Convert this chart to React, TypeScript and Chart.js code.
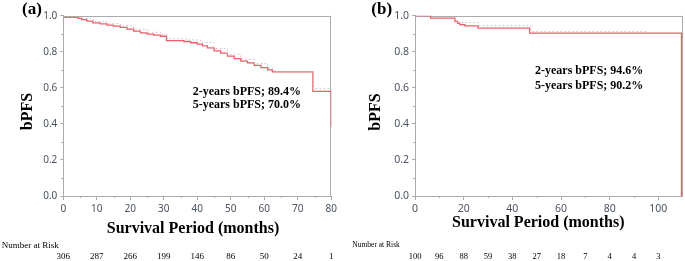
import React, { useEffect, useRef } from 'react';
import { Chart, registerables } from 'chart.js';

Chart.register(...registerables);

// ---------- Panel (a) data ----------
const aTimes = [0, 4.4, 5.5, 7, 8.8, 11, 13, 15, 17, 19, 21, 23, 25, 27, 29, 30.8, 36, 38, 40, 41.5, 43, 45, 47, 49, 51, 53, 55, 57, 59, 61, 62.4, 74.5, 80];
const aSurv = [0.991, 0.985, 0.978, 0.970, 0.960, 0.955, 0.948, 0.942, 0.935, 0.925, 0.915, 0.905, 0.898, 0.892, 0.886, 0.862, 0.857, 0.850, 0.842, 0.833, 0.822, 0.805, 0.792, 0.776, 0.762, 0.748, 0.738, 0.725, 0.712, 0.700, 0.688, 0.580, 0.383];
const aCensorTimes = [0, 5, 9, 13, 17, 21, 25, 29, 31, 37, 41, 45, 49, 53, 57, 61, 63, 74.5, 80];
const aCensorSurv = [0.993, 0.985, 0.968, 0.956, 0.944, 0.925, 0.908, 0.896, 0.872, 0.866, 0.852, 0.818, 0.786, 0.758, 0.735, 0.710, 0.690, 0.595, 0.595];
const aXTicks = [0, 10, 20, 30, 40, 50, 60, 70, 80];
const aXMinor = [5, 15, 25, 35, 45, 55, 65, 75];
const aRiskMonths = [0, 10, 20, 30, 40, 50, 60, 70, 80];
const aRisk = [306, 287, 266, 199, 146, 86, 50, 24, 1];
const aNotes = ['2-years bPFS; 89.4%', '5-years bPFS; 70.0%'];

// ---------- Panel (b) data ----------
const bTimes = [0, 6.4, 16.4, 17.5, 18.4, 20.5, 25.9, 47.1, 109.5];
const bSurv = [1.0, 0.986, 0.968, 0.958, 0.950, 0.944, 0.931, 0.903, 0.0];
const bCensorTimes = [17.5, 26, 47.6, 95];
const bCensorSurv = [0.962, 0.946, 0.912, 0.912];
const bXTicks = [0, 20, 40, 60, 80, 100];
const bXMinor = [10, 30, 50, 70, 90];
const bRiskMonths = [0, 10, 20, 30, 40, 50, 60, 70, 80, 90, 100];
const bRisk = [100, 96, 88, 59, 38, 27, 18, 7, 4, 4, 3];
const bNotes = ['2-years bPFS; 94.6%', '5-years bPFS; 90.2%'];

const yTicks = [0, 0.2, 0.4, 0.6, 0.8, 1.0];
const yMinor = [0.1, 0.3, 0.5, 0.7, 0.9];

const AXIS = '#ababab';
const TICK_TXT = '#4a5261';
const RED = '#ee5d6a';
const GRAY = '#c2c2c2';
const SERIF = '"Liberation Serif", "Times New Roman", serif';
const SANS = '"Noto Sans", "DejaVu Sans", sans-serif';

type PanelCfg = {
  left: number;
  width: number;
  xMax: number;
  yAxisWidth: number;
  padRight: number;
  times: number[];
  surv: number[];
  cTimes: number[];
  cSurv: number[];
  xTicks: number[];
  xMinor: number[];
  riskMonths: number[];
  risk: number[];
  notes: string[];
  label: string;
  labelPos: [number, number];
  yTitlePos: [number, number];
  xTitlePos: [number, number];
  notePos: [number, number, number];
  narPos: [number, number];
  narFont: number;
  riskY: number;
  riskFont: number;
  tickFont: number;
};

const panelA: PanelCfg = {
  left: 0, width: 340, xMax: 80, yAxisWidth: 63.3, padRight: 7.7,
  times: aTimes, surv: aSurv, cTimes: aCensorTimes, cSurv: aCensorSurv,
  xTicks: aXTicks, xMinor: aXMinor, riskMonths: aRiskMonths, risk: aRisk, notes: aNotes,
  label: '(a)', labelPos: [32, 10], yTitlePos: [28.3, 111.5], xTitlePos: [193, 229],
  notePos: [192.7, 91.7, 105], narPos: [1.7, 246], narFont: 9, riskY: 256.5, riskFont: 9, tickFont: 10,
};

const panelB: PanelCfg = {
  left: 340, width: 345, xMax: 110, yAxisWidth: 75, padRight: 2.3,
  times: bTimes, surv: bSurv, cTimes: bCensorTimes, cSurv: bCensorSurv,
  xTicks: bXTicks, xMinor: bXMinor, riskMonths: bRiskMonths, risk: bRisk, notes: bNotes,
  label: '(b)', labelPos: [41.7, 10], yTitlePos: [35.5, 112], xTitlePos: [198.3, 223],
  notePos: [195, 71.3, 85.8], narPos: [12.3, 245.5], narFont: 7.5, riskY: 256.7, riskFont: 8.5, tickFont: 10.5,
};

function KMPanel({ cfg }: { cfg: PanelCfg }) {
  const ref = useRef<HTMLCanvasElement>(null);

  useEffect(() => {
    if (!ref.current) return;

    const decor = {
      id: 'kmDecor',
      beforeDatasetsDraw(chart: any) {
        const { ctx, chartArea: ca } = chart;
        ctx.save();
        ctx.strokeStyle = AXIS;
        ctx.lineWidth = 1;
        ctx.beginPath();
        ctx.moveTo(ca.left, Math.round(ca.top) + 0.5);
        ctx.lineTo(ca.right, Math.round(ca.top) + 0.5);
        ctx.moveTo(Math.round(ca.right) - 0.5, ca.top);
        ctx.lineTo(Math.round(ca.right) - 0.5, ca.bottom);
        ctx.stroke();
        ctx.restore();
      },
      afterDraw(chart: any) {
        const { ctx, chartArea: ca, scales } = chart;
        const xs = scales.x;
        const ys = scales.y;
        ctx.save();
        // minor ticks
        ctx.strokeStyle = AXIS;
        ctx.lineWidth = 1;
        ctx.beginPath();
        yMinor.forEach((v) => {
          const y = Math.round(ys.getPixelForValue(v)) + 0.5;
          ctx.moveTo(ca.left - 2, y);
          ctx.lineTo(ca.left, y);
        });
        cfg.xMinor.forEach((v) => {
          const x = Math.round(xs.getPixelForValue(v)) + 0.5;
          ctx.moveTo(x, ca.bottom);
          ctx.lineTo(x, ca.bottom + 2);
        });
        ctx.stroke();

        ctx.fillStyle = '#000';
        // panel label
        ctx.font = `bold 17px ${SERIF}`;
        ctx.textAlign = 'center';
        ctx.textBaseline = 'middle';
        ctx.fillText(cfg.label, cfg.labelPos[0], cfg.labelPos[1]);

        // y title
        ctx.save();
        ctx.translate(cfg.yTitlePos[0], cfg.yTitlePos[1]);
        ctx.rotate(-Math.PI / 2);
        ctx.font = `bold 16px ${SERIF}`;
        ctx.fillText('bPFS', 0, 0);
        ctx.restore();

        // x title
        ctx.font = `bold 16px ${SERIF}`;
        ctx.fillText('Survival Period (months)', cfg.xTitlePos[0], cfg.xTitlePos[1]);

        // annotations
        ctx.font = `bold 12px ${SERIF}`;
        ctx.textAlign = 'left';
        ctx.fillText(cfg.notes[0], cfg.notePos[0], cfg.notePos[1]);
        ctx.fillText(cfg.notes[1], cfg.notePos[0], cfg.notePos[2]);

        // number at risk
        ctx.font = `${cfg.narFont}px ${SERIF}`;
        ctx.fillText('Number at Risk', cfg.narPos[0], cfg.narPos[1]);
        ctx.font = `${cfg.riskFont}px ${SERIF}`;
        ctx.textAlign = 'center';
        cfg.riskMonths.forEach((m, i) => {
          ctx.fillText(String(cfg.risk[i]), xs.getPixelForValue(m), cfg.riskY);
        });
        ctx.restore();
      },
    };

    const chart = new Chart(ref.current, {
      type: 'line',
      data: {
        datasets: [
          {
            data: cfg.cTimes.map((t, i) => ({ x: t, y: cfg.cSurv[i] })),
            borderColor: GRAY,
            borderWidth: 1,
            borderDash: [1.5, 2.5],
            pointRadius: 0,
            stepped: 'before',
            fill: false,
          },
          {
            data: cfg.times.map((t, i) => ({ x: t, y: cfg.surv[i] })),
            borderColor: RED,
            borderWidth: 1.3,
            pointRadius: 0,
            stepped: 'before',
            fill: false,
          },
        ],
      },
      options: {
        responsive: false,
        animation: false,
        devicePixelRatio: 1,
        layout: { padding: { left: 0, right: cfg.padRight, top: 15.7, bottom: 45 } },
        plugins: {
          legend: { display: false },
          tooltip: { enabled: false },
          title: { display: false },
        },
        scales: {
          x: {
            type: 'linear',
            min: 0,
            max: cfg.xMax,
            afterBuildTicks: (s: any) => {
              s.ticks = cfg.xTicks.map((v) => ({ value: v }));
            },
            afterFit: (s: any) => {
              s.height = 20;
            },
            ticks: {
              font: { family: SANS, size: cfg.tickFont },
              color: TICK_TXT,
              padding: 3,
              maxRotation: 0,
              autoSkip: false,
              callback: (v: any) => String(v),
            },
            grid: { drawOnChartArea: false, drawTicks: true, tickLength: 4, color: AXIS },
            border: { display: true, color: AXIS },
          },
          y: {
            type: 'linear',
            min: 0,
            max: 1,
            afterBuildTicks: (s: any) => {
              s.ticks = yTicks.map((v) => ({ value: v }));
            },
            afterFit: (s: any) => {
              s.width = cfg.yAxisWidth;
            },
            ticks: {
              font: { family: SANS, size: cfg.tickFont },
              color: TICK_TXT,
              padding: 3,
              callback: (v: any) => Number(v).toFixed(1),
            },
            grid: { drawOnChartArea: false, drawTicks: true, tickLength: 3, color: AXIS },
            border: { display: true, color: AXIS },
          },
        },
      },
      plugins: [decor],
    } as any);

    return () => chart.destroy();
  }, [cfg]);

  return (
    <canvas
      ref={ref}
      width={cfg.width}
      height={261}
      style={{ position: 'absolute', left: cfg.left, top: 0, width: cfg.width, height: 261 }}
    />
  );
}

export default function App() {
  return (
    <div style={{ position: 'fixed', left: 0, top: 0, width: 685, height: 261, background: '#fff' }}>
      <KMPanel cfg={panelA} />
      <KMPanel cfg={panelB} />
    </div>
  );
}
